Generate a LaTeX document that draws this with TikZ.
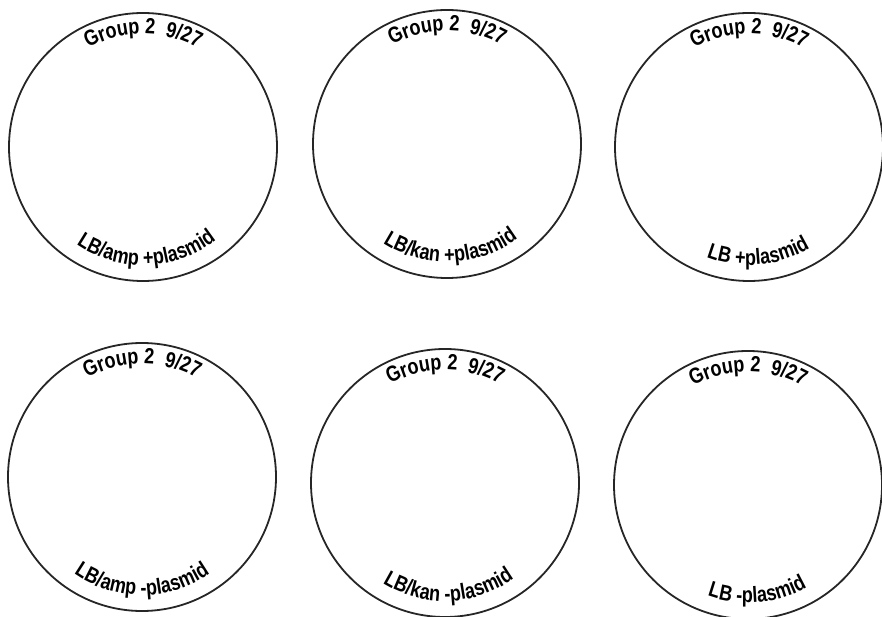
\documentclass[tikz,border=0pt]{standalone}
\usepackage{fontspec}
\newfontfamily\platefont[FakeStretch=0.82]{Liberation Sans}
\usetikzlibrary{decorations.text}

\begin{document}
\begin{tikzpicture}[
  x=1pt, y=1pt,
  plate/.style={circle, draw=black!85, line width=1.8pt, minimum size=268pt, inner sep=0pt},
  toplabel/.style={decorate, decoration={text along path, text align=center,
      text={|\platefont\bfseries\fontsize{22}{22}\selectfont|#1}}},
  bottomlabel/.style={decorate, decoration={text along path, text align=center,
      text={|\platefont\bfseries\fontsize{22}{22}\selectfont|#1}}}
]
\useasboundingbox (0,0) rectangle (882,616);

% ---- plates (top row: +plasmid, bottom row: -plasmid) ----
\node[plate] (ampplus)  at (143,469) {};
\node[plate] (kanplus)  at (447,472) {};
\node[plate] (lbplus)   at (749,469) {};
\node[plate] (ampminus) at (142,139) {};
\node[plate] (kanminus) at (445,133) {};
\node[plate] (lbminus)  at (748,131) {};

% ---- group and date along the top rim ----
\path[toplabel={Group 2{\ }{\ }9/27}] ([shift={(160:113)}]ampplus.center)  arc[start angle=160, end angle=20, radius=113];
\path[toplabel={Group 2{\ }{\ }9/27}] ([shift={(160:113)}]kanplus.center)  arc[start angle=160, end angle=20, radius=113];
\path[toplabel={Group 2{\ }{\ }9/27}] ([shift={(160:113)}]lbplus.center)   arc[start angle=160, end angle=20, radius=113];
\path[toplabel={Group 2{\ }{\ }9/27}] ([shift={(160:113)}]ampminus.center) arc[start angle=160, end angle=20, radius=113];
\path[toplabel={Group 2{\ }{\ }9/27}] ([shift={(160:113)}]kanminus.center) arc[start angle=160, end angle=20, radius=113];
\path[toplabel={Group 2{\ }{\ }9/27}] ([shift={(160:113)}]lbminus.center)  arc[start angle=160, end angle=20, radius=113];

% ---- medium along the bottom rim ----
\path[bottomlabel={LB/amp +plasmid}] ([shift={(202:118)}]ampplus.center)  arc[start angle=202, end angle=342, radius=118];
\path[bottomlabel={LB/kan +plasmid}] ([shift={(202:118)}]kanplus.center)  arc[start angle=202, end angle=342, radius=118];
\path[bottomlabel={LB +plasmid}]     ([shift={(205:118)}]lbplus.center)   arc[start angle=205, end angle=345, radius=118];
\path[bottomlabel={LB/amp -plasmid}] ([shift={(200:118)}]ampminus.center) arc[start angle=200, end angle=340, radius=118];
\path[bottomlabel={LB/kan -plasmid}] ([shift={(202:118)}]kanminus.center) arc[start angle=202, end angle=342, radius=118];
\path[bottomlabel={LB -plasmid}]     ([shift={(205:118)}]lbminus.center)  arc[start angle=205, end angle=345, radius=118];

\end{tikzpicture}
\end{document}
